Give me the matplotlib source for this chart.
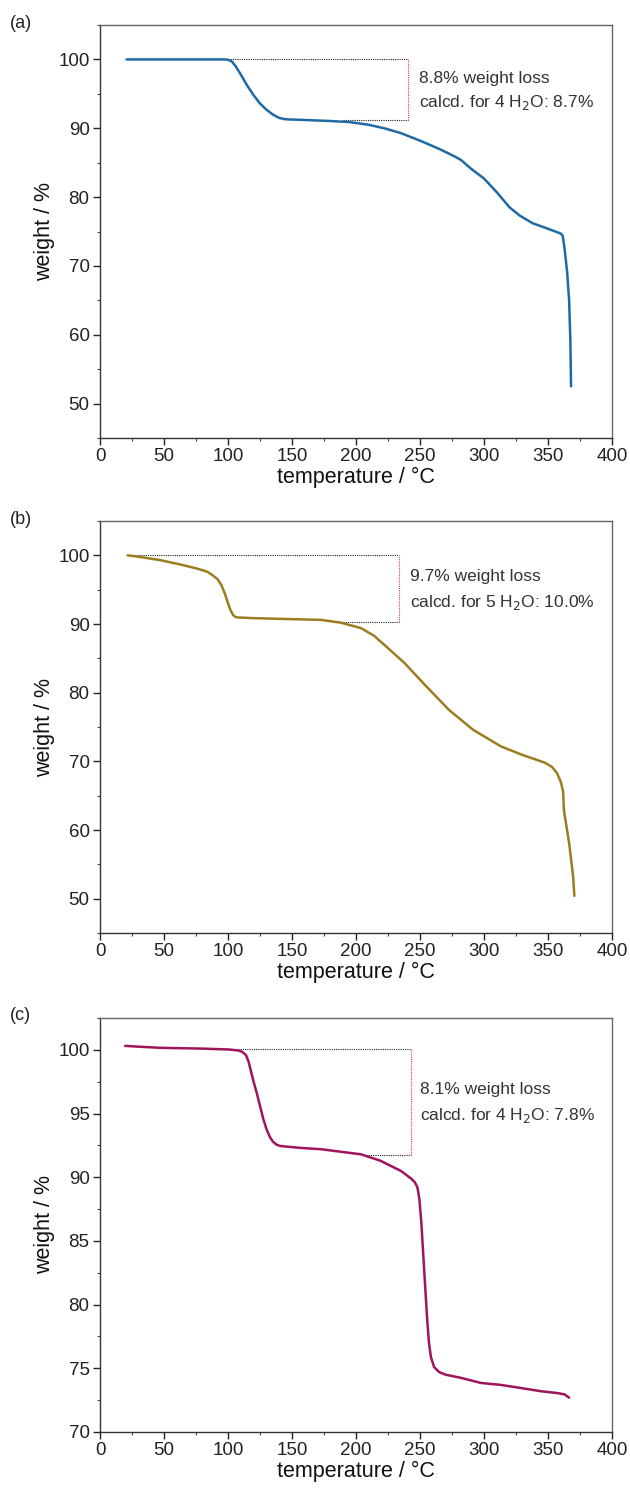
import matplotlib
matplotlib.use("Agg")
import matplotlib.pyplot as plt
from matplotlib.ticker import MultipleLocator

plt.rcParams['font.family'] = ['Liberation Sans', 'DejaVu Sans']

# ---- data ----
temp_a = [20.7, 60, 97, 100, 103, 106, 110, 115, 120, 125, 130, 135, 140, 145, 160, 180, 195, 210,
          222, 235, 250, 265, 275, 282, 290, 300, 310, 320, 328, 338, 350, 360, 361.5, 363, 365,
          366.5, 367.5, 368]
wt_a = [100, 100, 100, 99.95, 99.7, 99.0, 97.8, 96.2, 94.8, 93.6, 92.7, 92.0, 91.5, 91.3, 91.2,
        91.05, 90.9, 90.5, 90.0, 89.3, 88.2, 87.0, 86.1, 85.4, 84.1, 82.7, 80.7, 78.5, 77.3, 76.2,
        75.4, 74.7, 74.4, 72.4, 69.0, 65.0, 59.0, 52.5]

temp_b = [21.6, 30, 47, 62, 75.4, 84, 88, 92, 95, 98, 100, 102, 104, 106, 108, 120, 141, 172.5,
          188, 204, 214, 222.5, 238, 254, 272.6, 291.4, 313, 329, 347.6, 353, 357, 360, 361.8,
          362.4, 363, 366.5, 369.6, 370.6]
wt_b = [100.0, 99.8, 99.3, 98.7, 98.1, 97.6, 97.1, 96.5, 95.6, 94.2, 93.0, 92.0, 91.3, 91.0,
        90.95, 90.85, 90.75, 90.6, 90.2, 89.4, 88.3, 86.9, 84.3, 81.1, 77.5, 74.6, 72.2, 71.0,
        69.8, 69.2, 68.3, 67.0, 65.6, 63.0, 62.2, 58.1, 53.3, 50.4]

temp_c = [19.7, 30, 47, 78.6, 100.5, 108, 111, 114, 116, 118, 120, 122.5, 125, 127.5, 130, 132.5,
          135, 138, 141, 156.8, 172.5, 188, 203.8, 219, 235, 243, 246, 248, 249.5, 251, 252.5,
          254, 255.5, 257, 258.5, 261, 265, 270, 282, 297.6, 313, 329, 344.6, 357, 363, 366.5]
wt_c = [100.31, 100.25, 100.16, 100.1, 100.03, 99.95, 99.85, 99.6, 99.1, 98.3, 97.5, 96.6, 95.6,
        94.6, 93.8, 93.2, 92.8, 92.55, 92.45, 92.3, 92.2, 92.0, 91.8, 91.3, 90.5, 89.9, 89.6,
        89.2, 88.3, 86.5, 84.0, 81.5, 79.0, 77.0, 75.9, 75.1, 74.7, 74.5, 74.25, 73.85, 73.7,
        73.45, 73.2, 73.06, 72.95, 72.7]

panel_labels = ['(a)', '(b)', '(c)']
colors = ['#1f6aa5', '#9b7d1f', '#a0145c']
ylims = [(45, 105), (45, 105), (70, 102.5)]
ymajor = [10, 10, 5]
yminor = [5, 5, 2.5]

# annotation values: (upper level, lower level, upper start T, lower start T, end T)
ann_upper = [100.0, 100.0, 100.07]
ann_lower = [91.15, 90.32, 91.73]
ann_upper_start = [100, 25, 85]
ann_lower_start = [190, 183, 208]
ann_end = [241, 233.5, 243]
ann_text1 = ['8.8% weight loss', '9.7% weight loss', '8.1% weight loss']
ann_text2 = ['calcd. for 4 H$_2$O: 8.7%', 'calcd. for 5 H$_2$O: 10.0%', 'calcd. for 4 H$_2$O: 7.8%']
ann_text_x = [249, 242, 250]
ann_text_y1 = [97.3, 96.85, 96.9]
ann_text_y2 = [93.7, 93.1, 94.85]

temps = [temp_a, temp_b, temp_c]
wts = [wt_a, wt_b, wt_c]

W, H = 630, 1488
fig = plt.figure(figsize=(W / 100, H / 100), dpi=100)
left = 100 / W
width = 512 / W
bottoms_px = [438, 933, 1432]
tops_px = [25, 521, 1018]

for i in range(3):
    b = 1 - bottoms_px[i] / H
    h = (bottoms_px[i] - tops_px[i]) / H
    ax = fig.add_axes([left, b, width, h])
    ax.plot(temps[i], wts[i], color=colors[i], lw=1.8, solid_capstyle='round',
            solid_joinstyle='round', zorder=3)
    ax.set_xlim(0, 400)
    ax.set_ylim(*ylims[i])
    ax.xaxis.set_major_locator(MultipleLocator(50))
    ax.xaxis.set_minor_locator(MultipleLocator(25))
    ax.yaxis.set_major_locator(MultipleLocator(ymajor[i]))
    ax.yaxis.set_minor_locator(MultipleLocator(yminor[i]))
    ax.tick_params(which='major', direction='out', length=5, width=1.0, labelsize=13.5,
                   colors='#222222', pad=2.5, top=False, right=False)
    ax.tick_params(which='minor', direction='out', length=2.5, width=0.8, top=False, right=False,
                   colors='#444444')
    for s in ['left', 'bottom']:
        ax.spines[s].set_color('#333333')
        ax.spines[s].set_linewidth(1.0)
    for s in ['top', 'right']:
        ax.spines[s].set_color('#666666')
        ax.spines[s].set_linewidth(1.0)
    ax.set_xlabel('temperature / °C', fontsize=15.5, color='#111111', labelpad=1)
    ax.set_ylabel('weight / %', fontsize=15.5, color='#111111', labelpad=2)

    # annotation bracket
    ax.plot([ann_upper_start[i], ann_end[i]], [ann_upper[i], ann_upper[i]], color='#222222',
            lw=0.8, ls=(0, (1, 1)), zorder=2)
    ax.plot([ann_lower_start[i], ann_end[i]], [ann_lower[i], ann_lower[i]], color='#222222',
            lw=0.8, ls=(0, (1, 1)), zorder=2)
    ax.plot([ann_end[i], ann_end[i]], [ann_lower[i], ann_upper[i]], color='#e8393f',
            lw=0.8, ls=(0, (1, 1)), zorder=2)
    ax.text(ann_text_x[i], ann_text_y1[i], ann_text1[i], fontsize=12.5, color='#333333',
            va='center', ha='left')
    ax.text(ann_text_x[i], ann_text_y2[i], ann_text2[i], fontsize=12.5, color='#333333',
            va='center', ha='left')

    fig.text(10 / W, 1 - (tops_px[i] - 2) / H, panel_labels[i], fontsize=13,
             color='#222222', va='center', ha='left')

fig.savefig('out.png', dpi=100, facecolor='white')
